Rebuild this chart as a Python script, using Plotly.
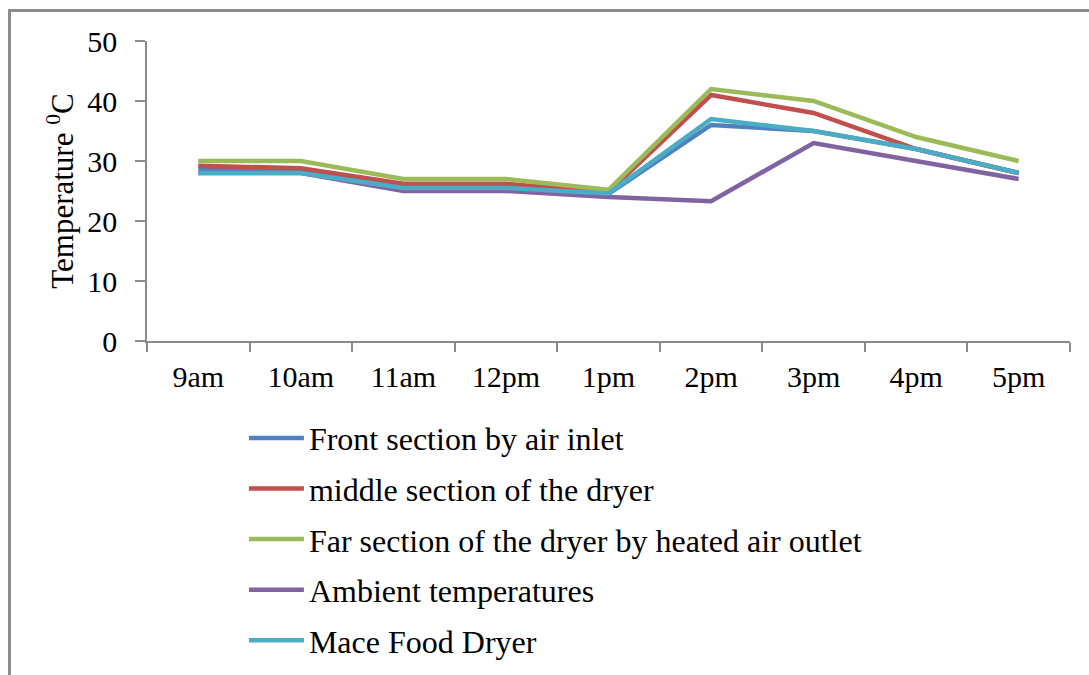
import plotly.graph_objects as go

times = ["9am", "10am", "11am", "12pm", "1pm", "2pm", "3pm", "4pm", "5pm"]
front = [28.7, 28.5, 25.8, 25.8, 24.5, 36, 35, 32, 28]
middle = [29.2, 28.8, 26.2, 26.2, 24.8, 41, 38, 32, 28]
far = [30, 30, 27, 27, 25.2, 42, 40, 34, 30]
ambient = [28, 28, 25, 25, 24, 23.3, 33, 30, 27]
mace = [28, 28, 25.5, 25.5, 24.6, 37, 35, 32, 28]

names = ["Front section by air inlet", "middle section of the dryer",
         "Far section of the dryer by heated air outlet",
         "Ambient temperatures", "Mace Food Dryer"]
series = [front, middle, far, ambient, mace]
colors = ["#4F81BD", "#C0504D", "#9BBB59", "#8064A2", "#4BACC6"]

fig = go.Figure()
for nm, vals, c in zip(names, series, colors):
    fig.add_trace(go.Scatter(x=times, y=vals, name=nm, mode="lines",
                             line=dict(color=c, width=4.5), legendgroup=nm))

axis_col = "#8C8C8C"
fig.update_layout(
    width=1089, height=675,
    margin=dict(l=147, r=19, t=41, b=334, autoexpand=False),
    paper_bgcolor="white", plot_bgcolor="white",
    font=dict(family="Liberation Serif", color="black", size=30),
    showlegend=True,
    legend=dict(x=0.105, y=-0.232, xanchor="left", yanchor="top",
                orientation="v", font=dict(size=32), tracegroupgap=6,
                itemwidth=55, bgcolor="rgba(0,0,0,0)"),
    xaxis=dict(type="category", range=[-0.5, 8.5], tickson="boundaries",
               ticks="outside", ticklen=9, tickcolor=axis_col, tickwidth=1.5,
               showline=True, linecolor=axis_col, linewidth=1.5,
               showgrid=False, zeroline=False, tickfont=dict(size=30),
               ticklabelstandoff=8),
    yaxis=dict(range=[0, 50], dtick=10, ticks="outside", ticklen=10,
               tickcolor=axis_col, tickwidth=1.5, showline=True,
               linecolor=axis_col, linewidth=1.5, showgrid=False,
               zeroline=False, tickfont=dict(size=30), ticklabelstandoff=12,
               title=dict(text="Temperature <sup>0</sup>C", font=dict(size=31),
                          standoff=4)),
    shapes=[dict(type="rect", xref="paper", yref="paper",
                 x0=(9.5 - 147) / 923, x1=1.1, y0=-1.3, y1=1 + (41 - 10.5) / 300,
                 line=dict(color="#8C8C8C", width=3), fillcolor="rgba(0,0,0,0)")],
)

fig.write_html("out.html")
